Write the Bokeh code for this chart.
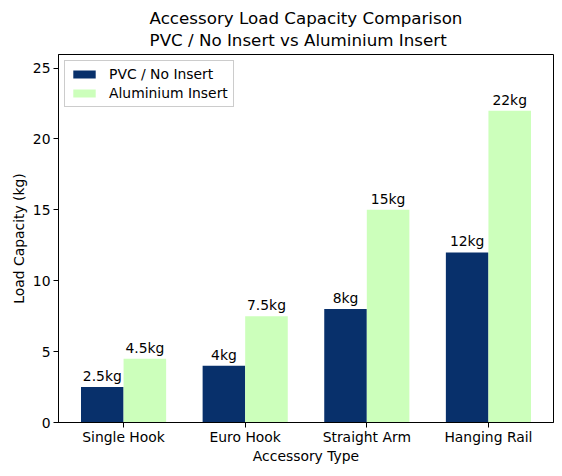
from bokeh.plotting import figure
from bokeh.models import ColumnDataSource, Range1d, FixedTicker, Legend, LegendItem
from bokeh.core.properties import value
from bokeh.embed import file_html
from bokeh.resources import INLINE

categories = ["Single Hook", "Euro Hook", "Straight Arm", "Hanging Rail"]
pvc_values = [2.5, 4, 8, 12]
alu_values = [4.5, 7.5, 15, 22]
pvc_labels = ["2.5kg", "4kg", "8kg", "12kg"]
alu_labels = ["4.5kg", "7.5kg", "15kg", "22kg"]
series_names = ["PVC / No Insert", "Aluminium Insert"]
title_lines = ["Accessory Load Capacity Comparison", "PVC / No Insert vs Aluminium Insert"]
x_label = "Accessory Type"
y_label = "Load Capacity (kg)"
y_ticks = [0, 5, 10, 15, 20, 25]
colors = ["#08306b", "#ccffbb"]
bar_w = 0.35

FONT = "DejaVu Sans"
FS = "13.9px"

y_max = max(alu_values) * 1.18
x_lo, x_hi = -0.535, len(categories) - 1 + 0.535

p = figure(width=554, height=466, output_backend="svg", toolbar_location=None,
           x_range=Range1d(x_lo, x_hi), y_range=Range1d(0, y_max),
           min_border_left=58, min_border_right=1, min_border_top=54, min_border_bottom=40)

p.title.text = "\n".join(title_lines)
p.title.align = "center"
p.title.text_font = FONT
p.title.text_font_size = "16.7px"
p.title.text_font_style = "normal"
p.title.text_color = "black"
p.title.text_line_height = 1.08
p.title.standoff = 9

xs = list(range(len(categories)))
src_p = ColumnDataSource(dict(x=[x - bar_w / 2 for x in xs], top=pvc_values, lab=pvc_labels))
src_a = ColumnDataSource(dict(x=[x + bar_w / 2 for x in xs], top=alu_values, lab=alu_labels))

r1 = p.vbar(x="x", top="top", width=bar_w, bottom=0, source=src_p, fill_color=colors[0], line_color=None)
r2 = p.vbar(x="x", top="top", width=bar_w, bottom=0, source=src_a, fill_color=colors[1], line_color=None)

for src in (src_p, src_a):
    p.text(x="x", y="top", text="lab", source=src, text_align="center", text_baseline="bottom",
           y_offset=-3, text_font=value(FONT), text_font_size=FS, text_color="black")

p.xaxis.ticker = FixedTicker(ticks=xs)
p.xaxis.major_label_overrides = {i: c for i, c in enumerate(categories)}
p.yaxis.ticker = FixedTicker(ticks=y_ticks)
p.xaxis.axis_label = x_label
p.yaxis.axis_label = y_label
for ax in (p.xaxis, p.yaxis):
    ax.axis_label_text_font = FONT
    ax.axis_label_text_font_size = FS
    ax.axis_label_text_font_style = "normal"
    ax.axis_label_text_color = "black"
    ax.major_label_text_font = FONT
    ax.major_label_text_font_size = FS
    ax.major_label_text_color = "black"
    ax.minor_tick_line_color = None
    ax.major_tick_out = 5
    ax.major_tick_in = 0
    ax.major_tick_line_color = "black"
    ax.axis_line_color = "black"
p.xaxis.major_label_standoff = 1
p.xaxis.axis_label_standoff = 0
p.yaxis.major_label_standoff = 3
p.yaxis.axis_label_standoff = 3

p.xgrid.grid_line_color = None
p.ygrid.grid_line_color = None
p.outline_line_color = "black"
p.outline_line_width = 1
p.background_fill_color = "white"
p.border_fill_color = "white"

legend = Legend(items=[LegendItem(label=series_names[0], renderers=[r1]),
                       LegendItem(label=series_names[1], renderers=[r2])],
                location="top_left")
legend.label_text_font = FONT
legend.label_text_font_size = FS
legend.label_text_color = "black"
legend.glyph_width = 28
legend.glyph_height = 10
legend.label_height = 16
legend.spacing = 3
legend.padding = 5
legend.margin = 6
legend.label_standoff = 11
legend.border_line_color = "#cccccc"
legend.border_line_alpha = 1
legend.background_fill_alpha = 0.8
p.add_layout(legend)

open("out.html", "w").write(file_html(p, INLINE))
